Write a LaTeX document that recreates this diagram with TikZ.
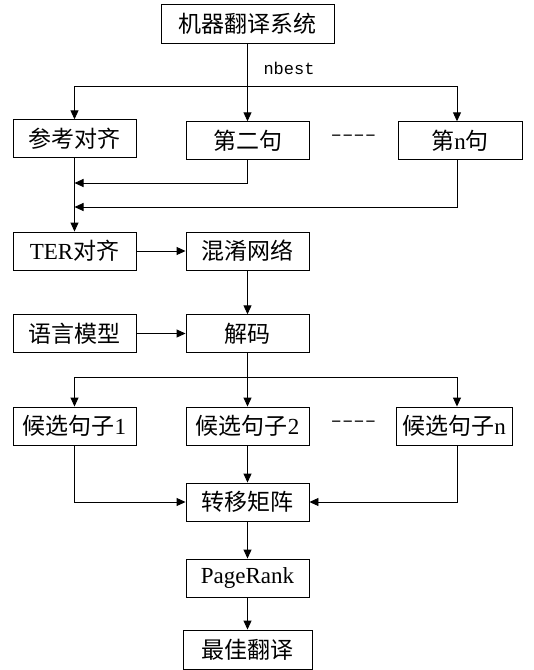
\documentclass[tikz,border=0pt]{standalone}
\usepackage{fontspec}
\setmainfont{Liberation Serif}
\newfontfamily\cjk{Noto Sans CJK SC}
\newfontfamily\monof{Liberation Mono}
\usetikzlibrary{arrows.meta}
\begin{document}
\begin{tikzpicture}[x=1pt,y=-1pt,
  box/.style={draw,line width=0.9pt,rectangle,minimum width=123pt,minimum height=37.5pt,inner sep=0pt,font=\fontsize{23}{25}\selectfont},
  arr/.style={line width=0.9pt,-{Triangle[length=9pt,width=8pt]}},
  dsh/.style={font=\monof\fontsize{19}{21}\selectfont}]
\useasboundingbox (0,0) rectangle (534,670);
\coordinate (colL) at (74.5,0);
\coordinate (colR) at (457,0);
\node[box,minimum width=173pt,minimum height=39pt] (top) at (247.5,23.5) {\cjk 机器翻译系统};
\node[box] (ref) at (74.5,138.5) {\cjk 参考对齐};
\node[box] (s2) at (247.5,140.5) {\cjk 第二句};
\node[box,minimum width=124pt] (sn) at (460,140.5) {{\cjk 第}n{\cjk 句}};
\node[dsh] (d1) at (353.5,138) {––––};
\node[anchor=west,font=\monof\fontsize{17}{19}\selectfont] (nb) at (260,68) {nbest};
\node[box,minimum height=38pt] (ter) at (74.5,251) {TER{\cjk 对齐}};
\node[box,minimum height=38pt] (cn) at (247.5,251) {\cjk 混淆网络};
\node[box] (lm) at (74.5,333.5) {\cjk 语言模型};
\node[box] (dec) at (247.5,333.5) {\cjk 解码};
\node[box,minimum height=38pt] (c1) at (74.5,426) {{\cjk 候选句子}1};
\node[box,minimum height=38pt] (c2) at (247.5,426) {{\cjk 候选句子}2};
\node[box,minimum height=38pt,minimum width=116pt] (cN) at (454,426) {{\cjk 候选句子}n};
\node[dsh] (d2) at (353.5,424) {––––};
\node[box,minimum height=38pt] (tm) at (247.5,502) {\cjk 转移矩阵};
\node[box,minimum height=38pt] (pr) at (247.5,578) {PageRank};
\node[box,minimum width=129pt,minimum height=39pt] (best) at (247.5,649.5) {\cjk 最佳翻译};
% top fan-out
\coordinate (j1) at (247.5,86);
\draw[arr] (top.south) -- (s2.north);
\draw[arr] (j1) -| (ref.north);
\draw[arr] (j1) -| (sn.north -| colR);
% merge into left column
\coordinate (m1) at (74.5,183);
\coordinate (m2) at (74.5,207);
\draw[arr] (ref.south) -- (ter.north);
\draw[arr] (s2.south) |- (m1);
\draw[arr] (sn.south -| colR) |- (m2);
\draw[arr] (ter.east) -- (cn.west);
\draw[arr] (cn.south) -- (dec.north);
\draw[arr] (lm.east) -- (dec.west);
% decode fan-out
\coordinate (j2) at (247.5,377);
\draw[arr] (dec.south) -- (c2.north);
\draw[arr] (j2) -| (c1.north);
\draw[arr] (j2) -| (cN.north -| colR);
% merge into transfer matrix
\draw[arr] (c1.south) |- (tm.west);
\draw[arr] (c2.south) -- (tm.north);
\draw[arr] (cN.south -| colR) |- (tm.east);
\draw[arr] (tm.south) -- (pr.north);
\draw[arr] (pr.south) -- (best.north);
\end{tikzpicture}
\end{document}
